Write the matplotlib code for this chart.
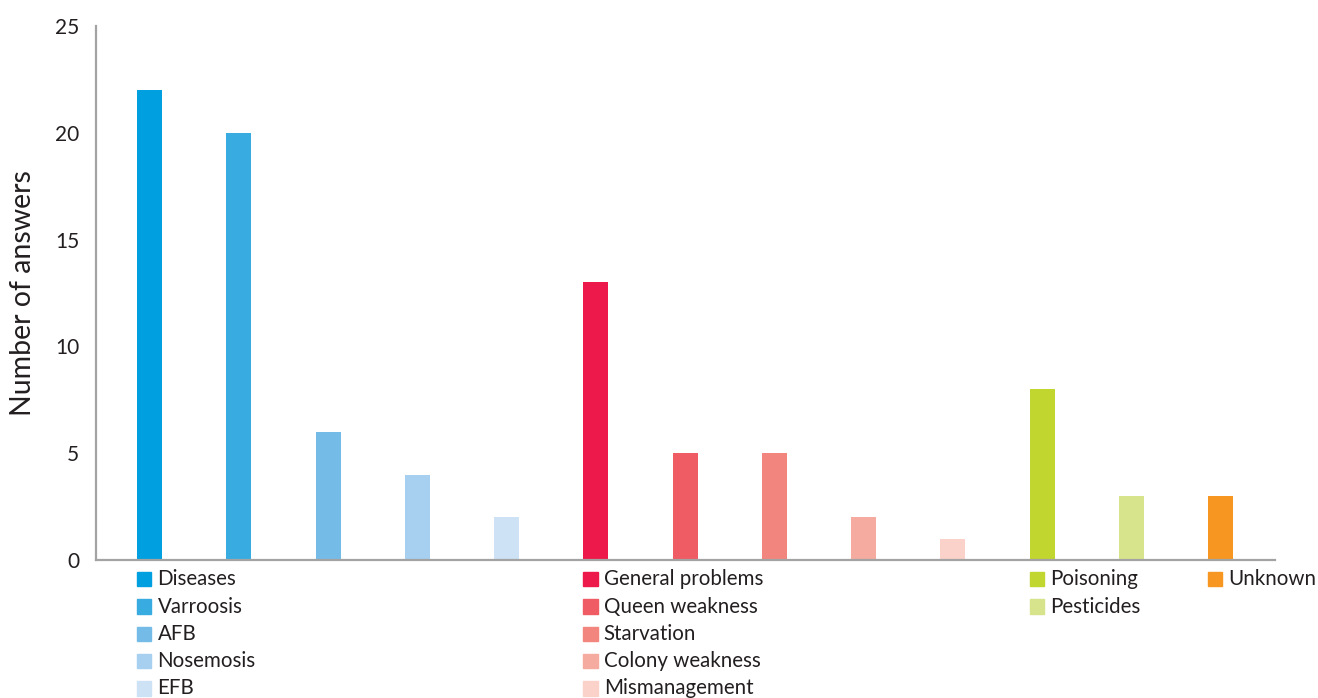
import matplotlib
matplotlib.use("Agg")
from matplotlib import pyplot as plt
from matplotlib.patches import Rectangle
from matplotlib.transforms import blended_transform_factory

plt.rcParams["font.family"] = ["Lato", "DejaVu Sans"]

categories = ["Diseases", "Varroosis", "AFB", "Nosemosis", "EFB",
              "General problems", "Queen weakness", "Starvation",
              "Colony weakness", "Mismanagement",
              "Poisoning", "Pesticides", "Unknown"]
answers = [22, 20, 6, 4, 2, 13, 5, 5, 2, 1, 8, 3, 3]
colors = ["#009fdf", "#38abe1", "#75bbe8", "#a6cff0", "#cde2f5",
          "#ed194b", "#f05c64", "#f2867f", "#f5aba0", "#fad2ca",
          "#c1d62f", "#d8e48c", "#f79721"]
# legend groups: index ranges of categories shown in each legend column
groups = [(0, 5), (5, 10), (10, 12), (12, 13)]
y_ticks = [0, 5, 10, 15, 20, 25]

TEXT = "#231f20"
BAR_W = 0.28

fig = plt.figure(figsize=(13.18, 6.98), dpi=100)
ax = fig.add_axes([0.0728, 0.1977, 0.8946, 0.7651])

x = list(range(len(categories)))
ax.bar(x, answers, width=BAR_W, color=colors)

ax.set_xlim(-0.6, 12.61)
ax.set_ylim(0, 25)
ax.set_xticks([])
ax.set_yticks(y_ticks)
ax.tick_params(axis="y", length=0, pad=12, labelsize=15, labelcolor=TEXT)
ax.set_ylabel("Number of answers", fontsize=20.5, color=TEXT, labelpad=14)

for side in ["top", "right"]:
    ax.spines[side].set_visible(False)
for side in ["left", "bottom"]:
    ax.spines[side].set_color("#a3a3a3")
    ax.spines[side].set_linewidth(1.6)

# legend columns placed under the first bar of each group
trans = blended_transform_factory(ax.transData, ax.transAxes)
row_h = 0.0511
sq_w = 0.16
sq_h = 0.027
for start, end in groups:
    x0 = start - BAR_W / 2
    for row, i in enumerate(range(start, end)):
        yc = -0.036 - row * row_h
        ax.add_patch(Rectangle((x0, yc - sq_h / 2), sq_w, sq_h,
                               transform=trans, color=colors[i], clip_on=False))
        ax.text(x0 + 0.23, yc, categories[i], transform=trans,
                va="center", ha="left", fontsize=14.8, color=TEXT)

fig.savefig("out.png", dpi=100)
